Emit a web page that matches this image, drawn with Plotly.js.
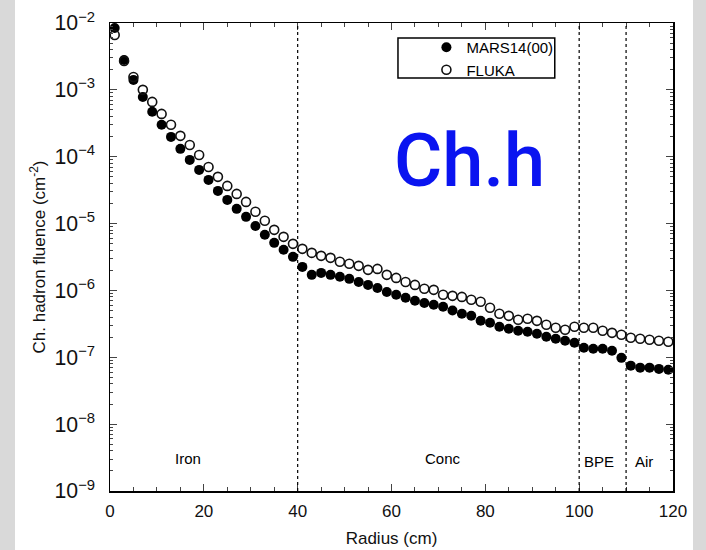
<!DOCTYPE html>
<html>
<head>
<meta charset="utf-8">
<script src="https://cdn.plot.ly/plotly-3.0.1.min.js"></script>
<style>
html,body{margin:0;padding:0;}
body{width:706px;height:550px;background:#d9d9d9;position:relative;overflow:hidden;}
#panel{position:absolute;left:15px;top:0;width:678px;height:550px;background:#fff;}
#chart{position:absolute;left:0;top:0;width:706px;height:550px;}
</style>
</head>
<body>
<div id="panel"></div>
<div id="chart"></div>
<script>
// Radius (cm), bin centres
const radius = [1,3,5,7,9,11,13,15,17,19,21,23,25,27,29,31,33,35,37,39,
  41,43,45,47,49,51,53,55,57,59,61,63,65,67,69,71,73,75,77,79,
  81,83,85,87,89,91,93,95,97,99,101,103,105,107,109,111,113,115,117,119];

// MARS14(00) charged hadron fluence (cm^-2)
const mars = [8.4e-3,2.8e-3,1.41e-3,7.8e-4,4.7e-4,3.0e-4,1.98e-4,1.31e-4,8.96e-5,6.35e-5,
  4.5e-5,3.08e-5,2.26e-5,1.66e-5,1.26e-5,9.2e-6,6.8e-6,5.15e-6,4.05e-6,3.18e-6,
  2.25e-6,1.71e-6,1.83e-6,1.71e-6,1.60e-6,1.49e-6,1.34e-6,1.21e-6,1.09e-6,9.5e-7,
  8.6e-7,7.75e-7,7.0e-7,6.5e-7,6.1e-7,5.7e-7,5.0e-7,4.47e-7,4.17e-7,3.51e-7,
  3.28e-7,2.86e-7,2.67e-7,2.49e-7,2.41e-7,2.25e-7,2.03e-7,1.89e-7,1.77e-7,1.65e-7,
  1.39e-7,1.34e-7,1.34e-7,1.25e-7,9.8e-8,7.5e-8,7.0e-8,7.0e-8,6.7e-8,6.5e-8];

// FLUKA charged hadron fluence (cm^-2)
const fluka = [6.6e-3,2.7e-3,1.56e-3,1.0e-3,6.6e-4,4.37e-4,3.0e-4,2.05e-4,1.5e-4,1.06e-4,
  7.0e-5,5.0e-5,3.66e-5,2.78e-5,2.11e-5,1.5e-5,1.1e-5,8.05e-6,6.33e-6,4.97e-6,
  4.19e-6,3.65e-6,3.29e-6,3.07e-6,2.68e-6,2.5e-6,2.33e-6,2.03e-6,2.1e-6,1.71e-6,
  1.54e-6,1.34e-6,1.21e-6,1.06e-6,1.02e-6,8.6e-7,8.3e-7,8.0e-7,7.24e-7,6.76e-7,
  5.5e-7,4.47e-7,4.17e-7,3.64e-7,3.77e-7,3.51e-7,3.06e-7,2.76e-7,2.58e-7,2.86e-7,
  2.76e-7,2.76e-7,2.49e-7,2.32e-7,2.17e-7,1.96e-7,1.89e-7,1.83e-7,1.77e-7,1.71e-7];

// Region boundaries and labels
const boundaries = [40,100,110];
const regionNames = ["Iron","Conc","BPE","Air"];
const regionX = [16.6,71,104.3,113.9];

const traces = [
  {x: radius, y: mars, name: "MARS14(00)", type: "scatter", mode: "markers",
   marker: {symbol: "circle", size: 10, color: "#000", line: {width: 0}}},
  {x: radius, y: fluka, name: "FLUKA", type: "scatter", mode: "markers",
   marker: {symbol: "circle-open", size: 9, color: "#111", line: {width: 1.6, color: "#111"}}}
];

const shapes = boundaries.map(b => ({
  type: "line", xref: "x", yref: "paper", x0: b, x1: b, y0: 0, y1: 1,
  line: {color: "#000", width: 1.2, dash: "dot"}
}));
// legend frame
shapes.push({type: "rect", xref: "paper", yref: "paper",
  x0: 0.5115, x1: 0.790, y0: 0.8826, y1: 0.968,
  line: {color: "#000", width: 1.5}, fillcolor: "#fff", layer: "below"});

const annotations = regionNames.map((n, i) => ({
  x: regionX[i], y: (i < 2 ? -8.52 : -8.56), xref: "x", yref: "y",
  text: n, showarrow: false, font: {family: "Liberation Sans, Arial", size: 15, color: "#000"}
}));
annotations.push({
  x: 76.6, y: -4.05, xref: "x", yref: "y", text: "Ch.h", showarrow: false,
  font: {family: "Roboto", size: 74, weight: 500, color: "#0a14f0"}
});

const tickFont = {family: "Liberation Sans, Arial", size: 17, color: "#111"};
const titleFont = {family: "Liberation Sans, Arial", size: 17, color: "#111"};

const layout = {
  width: 706, height: 550,
  margin: {l: 110, r: 33, t: 23, b: 58.5},
  paper_bgcolor: "rgba(0,0,0,0)",
  plot_bgcolor: "#fff",
  showlegend: true,
  legend: {x: 0.562, y: 0.983, xanchor: "left", yanchor: "top",
    bgcolor: "rgba(0,0,0,0)", borderwidth: 0,
    font: {family: "Liberation Sans, Arial", size: 15, color: "#000"},
    itemwidth: 30, tracegroupgap: 0},
  xaxis: {
    range: [0, 120], dtick: 20, tick0: 0, ticks: "inside", ticklen: 7, tickwidth: 1,
    showline: true, linecolor: "#000", linewidth: 1.5, mirror: "ticks",
    showgrid: false, zeroline: false,
    tickfont: tickFont, ticklabelstandoff: 4,
    minor: {dtick: 5, ticks: "inside", ticklen: 4, showgrid: false},
    title: {text: "Radius (cm)", font: titleFont, standoff: 12}
  },
  yaxis: {
    type: "log", range: [-9, -2], dtick: 1, ticks: "inside", ticklen: 7, tickwidth: 1,
    exponentformat: "power", showexponent: "all",
    showline: true, linecolor: "#000", linewidth: 1.5, mirror: "ticks",
    showgrid: false, zeroline: false,
    tickfont: tickFont, ticklabelstandoff: 10,
    minor: {dtick: "D1", ticks: "inside", ticklen: 3, showgrid: false},
    title: {text: "Ch. hadron fluence (cm<sup>-2</sup>)", font: titleFont, standoff: 4}
  },
  shapes: shapes,
  annotations: annotations
};

Plotly.newPlot("chart", traces, layout, {displayModeBar: false, staticPlot: true});
</script>
</body>
</html>
